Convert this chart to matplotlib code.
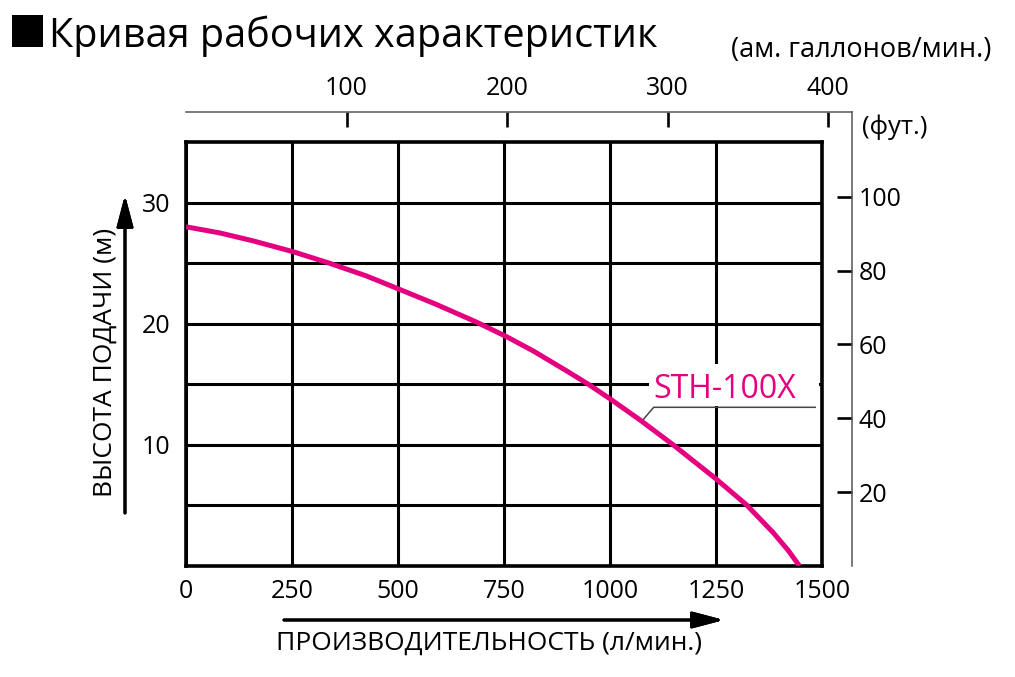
import matplotlib
matplotlib.use("Agg")
import matplotlib.pyplot as plt
from matplotlib.patches import Rectangle

plt.rcParams["font.family"] = ["Open Sans", "DejaVu Sans"]

# capacity (l/min) vs total head (m)
flow_lpm = [0, 79, 157, 252, 338, 425, 499, 590, 684, 755, 819, 898, 949, 998,
            1071, 1149, 1248, 1322, 1385, 1420, 1447]
head_m = [28.0, 27.5, 26.85, 25.95, 25.0, 23.95, 22.9, 21.6, 20.15, 18.95, 17.75, 16.1, 15.0, 13.85,
          12.05, 10.0, 7.25, 5.05, 2.75, 1.3, 0.0]

x_ticks = [0, 250, 500, 750, 1000, 1250, 1500]
y_ticks = [10, 20, 30]
y_minor = [5, 15, 25]
gal_ticks = [100, 200, 300, 400]
ft_ticks = [20, 40, 60, 80, 100]

L_PER_GAL = 3.78541
M_PER_FT = 0.3048

W, H = 1015, 677
fig = plt.figure(figsize=(W / 100, H / 100), dpi=100)

# secondary scales (US gal/min on top, feet on right) - their own frame sits outside the grid box
ax2 = fig.add_axes([186 / W, 1 - 566 / H, 666 / W, 454 / H])
ax2.set_facecolor("none")
ax2.set_xlim(0, 1500 * 666 / 636 / L_PER_GAL)
ax2.set_ylim(0, 35 * 454 / 424 / M_PER_FT)
for s in ["left", "bottom"]:
    ax2.spines[s].set_visible(False)
for s in ["top", "right"]:
    ax2.spines[s].set_color("#555555")
    ax2.spines[s].set_linewidth(1.1)
ax2.xaxis.tick_top()
ax2.yaxis.tick_right()
ax2.set_xticks(gal_ticks)
ax2.set_yticks(ft_ticks)
ax2.tick_params(axis="x", direction="in", length=10.5, width=1.9, pad=8, labelsize=18)
ax2.tick_params(axis="y", direction="in", length=10.5, width=1.9, pad=5, labelsize=18)

ax = fig.add_axes([186 / W, 1 - 566 / H, 636 / W, 424 / H])
ax.set_facecolor("none")
ax.set_xlim(0, 1500)
ax.set_ylim(0, 35)
ax.set_xticks(x_ticks)
ax.set_yticks(y_ticks)
ax.set_yticks(y_minor, minor=True)
ax.tick_params(which="both", length=0)
ax.tick_params(axis="x", pad=9, labelsize=18)
ax.tick_params(axis="y", pad=11, labelsize=18)
ax.grid(which="both", color="black", linewidth=2.2)
ax.set_axisbelow(True)
for s in ax.spines.values():
    s.set_linewidth(2.6)

ax.plot(flow_lpm, head_m, color="#e4007f", linewidth=3.6, solid_capstyle="butt",
        solid_joinstyle="round", zorder=4)

# model label with white patch over the grid and a leader line
ax.add_patch(Rectangle((1093, 13.2), 400, 3.45, facecolor="white", edgecolor="none", zorder=2.5))
ax.text(1101, 13.85, "STH-100X", color="#e4007f", fontsize=23, va="baseline", zorder=5)
ax.plot([1484, 1103, 1075], [13.1, 13.1, 11.95], color="#444444", linewidth=1.1, zorder=3)

# axis titles with arrows
fig.text(105 / W, 1 - 362 / H, "ВЫСОТА ПОДАЧИ (м)", rotation=90, ha="center", va="center", fontsize=19)
fig.text(489 / W, 1 - 643 / H, "ПРОИЗВОДИТЕЛЬНОСТЬ (л/мин.)", ha="center", va="center", fontsize=19)
arrow = dict(arrowstyle="-|>,head_length=1.9,head_width=0.5", mutation_scale=10,
             color="black", lw=2.2, shrinkA=0, shrinkB=0)
fig.add_artist(plt.annotate("", xy=(125 / W, 1 - 195 / H), xytext=(125 / W, 1 - 513 / H),
                            xycoords="figure fraction", textcoords="figure fraction", arrowprops=arrow))
fig.add_artist(plt.annotate("", xy=(724 / W, 1 - 620 / H), xytext=(284 / W, 1 - 620 / H),
                            xycoords="figure fraction", textcoords="figure fraction", arrowprops=arrow))

fig.text(862 / W, 1 - 127 / H, "(фут.)", ha="left", va="center", fontsize=18.5)
fig.text(991 / W, 1 - 50 / H, "(ам. галлонов/мин.)", ha="right", va="center", fontsize=19.5)

# title with black square marker
fig.add_artist(Rectangle((12 / W, 1 - 47 / H), 31 / W, 32 / H, transform=fig.transFigure,
                         facecolor="black", edgecolor="none"))
fig.text(49 / W, 1 - 47 / H, "Кривая рабочих характеристик", ha="left", va="baseline", fontsize=28.5)

fig.savefig("out.png", dpi=100)
